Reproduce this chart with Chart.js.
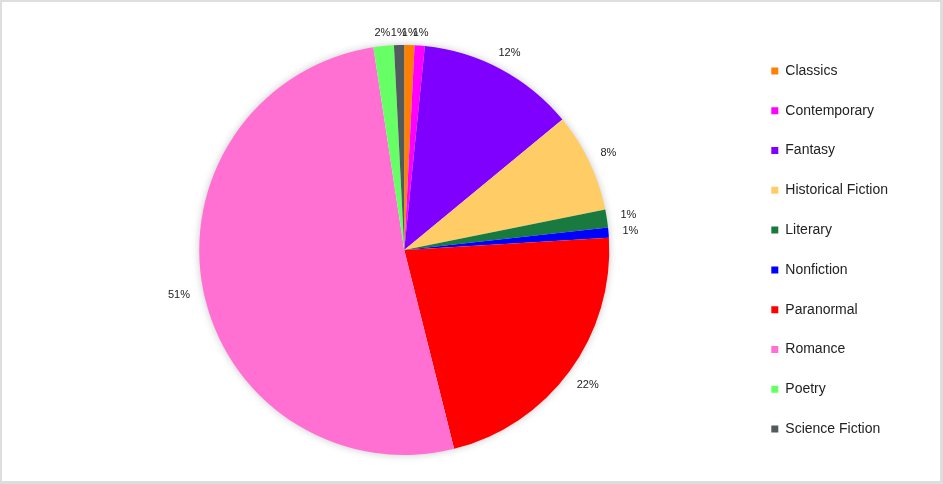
<!DOCTYPE html>
<html>
<head>
<meta charset="utf-8">
<script src="https://cdn.jsdelivr.net/npm/chart.js@4"></script>
<style>
  html, body { margin: 0; padding: 0; background: #fff; }
  #frame { position: relative; width: 943px; height: 484px; box-sizing: border-box; border: 2px solid #dedede; border-right-width: 3px; border-bottom-width: 3px; }
  #wrap { position: absolute; left: -2px; top: -2px; width: 943px; height: 484px; }
</style>
</head>
<body>
<div id="frame"><div id="wrap"><canvas id="genre-chart"></canvas></div></div>
<script>
// genres, clockwise from 12 o'clock
const genres = ['Classics', 'Contemporary', 'Fantasy', 'Historical Fiction', 'Literary',
    'Nonfiction', 'Paranormal', 'Romance', 'Poetry', 'Science Fiction'];
const shares = [0.8, 0.8, 12.4, 7.8, 1.4, 0.8, 22.0, 51.4, 1.6, 0.8];
const shareLabels = ['1%', '1%', '12%', '8%', '1%', '1%', '22%', '51%', '2%', '1%'];

const genreColors = ['#ff8000', '#ff00ff', '#8000ff', '#ffcc66', '#187a3e',
    '#0000ff', '#ff0000', '#ff70d2', '#66ff66', '#525a5c'];

// soft grey shadow behind the whole pie
const pieShadow = {
    id: 'pieShadow',
    beforeDatasetsDraw(chart) {
        const arc = chart.getDatasetMeta(0).data[0];
        if (!arc) return;
        const ctx = chart.ctx;
        ctx.save();
        ctx.shadowColor = 'rgba(0, 0, 0, 0.28)';
        ctx.shadowBlur = 9;
        ctx.fillStyle = '#fff';
        ctx.beginPath();
        ctx.arc(arc.x, arc.y, arc.outerRadius - 1, 0, Math.PI * 2);
        ctx.fill();
        ctx.restore();
    }
};

// percentage labels just outside each slice, pushed out a bit more on the sides
const outsideLabels = {
    id: 'outsideLabels',
    afterDatasetsDraw(chart) {
        const ctx = chart.ctx;
        ctx.save();
        ctx.font = '11px "Liberation Sans", Arial, sans-serif';
        ctx.fillStyle = '#222';
        ctx.textAlign = 'center';
        ctx.textBaseline = 'middle';
        chart.getDatasetMeta(0).data.forEach((arc, i) => {
            const mid = (arc.startAngle + arc.endAngle) / 2;
            const w = ctx.measureText(shareLabels[i]).width;
            const r = arc.outerRadius + 12 + (w / 2 + 2) * Math.abs(Math.cos(mid));
            ctx.fillText(shareLabels[i], arc.x + Math.cos(mid) * r, arc.y + Math.sin(mid) * r);
        });
        ctx.restore();
    }
};

new Chart(document.getElementById('genre-chart'), {
    type: 'pie',
    data: {
        labels: genres,
        datasets: [{
            data: shares,
            backgroundColor: genreColors,
            borderWidth: 0,
            radius: 205
        }]
    },
    options: {
        responsive: true,
        maintainAspectRatio: false,
        animation: false,
        layout: { padding: { left: 63, top: 25, bottom: 9, right: 45 } },
        plugins: {
            tooltip: { enabled: false },
            legend: {
                position: 'right',
                align: 'center',
                labels: {
                    boxWidth: 7,
                    boxHeight: 7,
                    padding: 25.8,
                    color: '#222',
                    font: { size: 14, family: '"Liberation Sans", Arial, sans-serif' }
                }
            }
        }
    },
    plugins: [pieShadow, outsideLabels]
});
</script>
</body>
</html>
